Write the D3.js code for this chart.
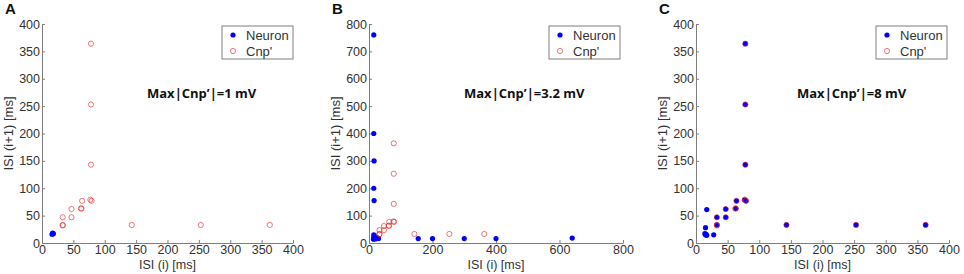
<!DOCTYPE html>
<html>
<head>
<meta charset="utf-8">
<script src="https://cdnjs.cloudflare.com/ajax/libs/d3/7.8.5/d3.min.js"></script>
<style>
  body { margin: 0; background: #fff; }
  text { font-family: "Liberation Sans", Arial, sans-serif; }
</style>
</head>
<body>
<div id="chart"></div>
<script>
// ISI return maps, three panels
const panelLetters = ["A", "B", "C"];
const annotations = ["Max|Cnp\u2019|=1 mV", "Max|Cnp\u2019|=3.2 mV", "Max|Cnp\u2019|=8 mV"];
const legendLabels = ["Neuron", "Cnp'"];

const xTicksA = [0, 50, 100, 150, 200, 250, 300, 350, 400];
const yTicksA = [0, 50, 100, 150, 200, 250, 300, 350, 400];
const xTicksB = [0, 200, 400, 600, 800];
const yTicksB = [0, 100, 200, 300, 400, 500, 600, 700, 800];
const xTicksC = [0, 50, 100, 150, 200, 250, 300, 350, 400];
const yTicksC = [0, 50, 100, 150, 200, 250, 300, 350, 400];

// [ISI(i), ISI(i+1)] in ms
const neuronA = [[17, 17], [16, 16], [18, 17], [17, 18]];
const cnpA = [[33, 33], [33, 32], [33, 47], [47, 47], [47, 62], [63, 63], [62, 63],
  [64, 77], [77, 79], [79, 77], [78, 143], [78, 253], [78, 364],
  [143, 33], [253, 33], [363, 33]];

const neuronB = [[15, 760], [15, 400], [16, 300], [15, 200], [16, 155],
  [15, 20], [15, 30], [17, 25], [20, 15], [25, 20], [14, 14], [30, 16],
  [155, 16], [200, 16], [300, 16], [400, 16], [640, 18]];
const cnpB = [[33, 33], [33, 32], [33, 47], [47, 47], [47, 62], [63, 63], [62, 63],
  [64, 77], [77, 79], [79, 77], [78, 143], [78, 253], [78, 364],
  [143, 33], [253, 33], [363, 33]];

const neuronC = [[33, 33], [33, 47], [47, 47], [47, 62], [63, 63],
  [64, 77], [77, 79], [79, 77], [78, 143], [78, 253], [78, 364],
  [143, 33], [253, 33], [363, 33],
  [17, 61], [15, 28], [15, 15], [16, 16], [17, 14], [14, 17], [28, 15]];
const cnpC = [[33, 33], [33, 32], [33, 47], [47, 47], [47, 62], [63, 63], [62, 63],
  [64, 77], [77, 79], [79, 77], [78, 143], [78, 253], [78, 364],
  [143, 33], [253, 33], [363, 33]];

const panels = [
  { left: 42, width: 251, xMax: 400, yMax: 400, xTicks: xTicksA, yTicks: yTicksA,
    neuron: neuronA, cnp: cnpA, annX: 105, legX: 180 },
  { left: 369, width: 254, xMax: 800, yMax: 800, xTicks: xTicksB, yTicks: yTicksB,
    neuron: neuronB, cnp: cnpB, annX: 95, legX: 180 },
  { left: 696, width: 253, xMax: 400, yMax: 400, xTicks: xTicksC, yTicks: yTicksC,
    neuron: neuronC, cnp: cnpC, annX: 101, legX: 180 }
];

const plotTop = 24, plotBottom = 243;
const axisColor = "#7f7f7f";
const textColor = "#333";

const svg = d3.select("#chart").append("svg")
  .attr("width", 964).attr("height", 274);

panels.forEach(function (p, i) {
  const g = svg.append("g").attr("transform", `translate(${p.left},0)`);
  const x = d3.scaleLinear().domain([0, p.xMax]).range([0, p.width]);
  const y = d3.scaleLinear().domain([0, p.yMax]).range([plotBottom, plotTop]);

  // axes (box off, ticks inward)
  const xa = g.append("g").attr("transform", `translate(0,${plotBottom})`)
    .call(d3.axisBottom(x).tickValues(p.xTicks).tickSizeInner(-3).tickSizeOuter(0).tickPadding(5));
  const ya = g.append("g")
    .call(d3.axisLeft(y).tickValues(p.yTicks).tickSizeInner(-3).tickSizeOuter(0).tickPadding(5));
  [xa, ya].forEach(function (a) {
    a.select(".domain").attr("stroke", axisColor);
    a.selectAll(".tick line").attr("stroke", axisColor);
    a.selectAll(".tick text").attr("fill", textColor)
      .style("font-size", "12.5px").style("font-family", "Liberation Sans, Arial, sans-serif");
  });
  ya.selectAll(".tick text").attr("x", -2);
  xa.selectAll(".tick text").attr("y", 2);

  // axis titles
  g.append("text")
    .attr("x", p.width / 2).attr("y", 269)
    .attr("text-anchor", "middle").attr("fill", textColor)
    .style("font-size", "12.5px").text("ISI (i) [ms]");
  g.append("text")
    .attr("transform", `translate(-29,${(plotTop + plotBottom) / 2}) rotate(-90)`)
    .attr("text-anchor", "middle").attr("fill", textColor)
    .style("font-size", "13px").text("ISI (i+1) [ms]");

  // panel letter
  g.append("text")
    .attr("x", -37).attr("y", 14)
    .style("font-size", "15px").style("font-weight", "bold").attr("fill", "#111")
    .text(panelLetters[i]);

  // neuron points
  g.append("g").selectAll("circle").data(p.neuron).enter().append("circle")
    .attr("cx", d => x(d[0])).attr("cy", d => y(d[1]))
    .attr("r", 2.6).attr("fill", "#0000ff");

  // Cnp' points
  g.append("g").selectAll("circle").data(p.cnp).enter().append("circle")
    .attr("cx", d => x(d[0])).attr("cy", d => y(d[1]))
    .attr("r", 2.6).attr("fill", "none")
    .attr("stroke", "#e02020").attr("stroke-opacity", 0.6).attr("stroke-width", 1);

  // annotation
  g.append("text")
    .attr("x", p.annX).attr("y", 98)
    .style("font-family", "Open Sans, sans-serif").style("font-weight", "bold")
    .style("font-size", "13px").attr("fill", "#111")
    .text(annotations[i]);

  // legend
  const lg = g.append("g").attr("transform", `translate(${p.legX},26)`);
  lg.append("rect").attr("width", 71).attr("height", 33)
    .attr("fill", "#fff").attr("stroke", axisColor);
  lg.append("circle").attr("cx", 11).attr("cy", 9).attr("r", 2.6).attr("fill", "#0000ff");
  lg.append("circle").attr("cx", 11).attr("cy", 25).attr("r", 2.6)
    .attr("fill", "none").attr("stroke", "#e02020").attr("stroke-opacity", 0.6);
  legendLabels.forEach(function (t, j) {
    lg.append("text").attr("x", 24).attr("y", 9 + j * 16).attr("dy", "0.35em")
      .attr("fill", textColor).style("font-size", "13px").text(t);
  });
});
</script>
</body>
</html>
